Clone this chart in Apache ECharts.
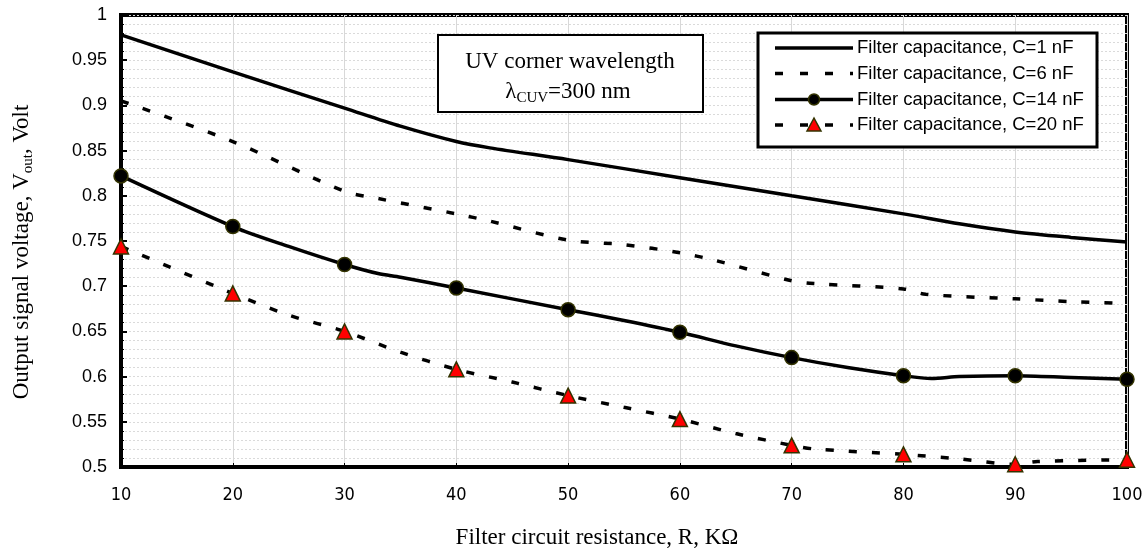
<!DOCTYPE html>
<html><head><meta charset="utf-8">
<script src="https://cdn.jsdelivr.net/npm/echarts@6/dist/echarts.min.js"></script>
<style>html,body{margin:0;padding:0;background:#fff}#c{width:1146px;height:553px}</style>
</head><body><div id="c"></div>
<script>
// Filter circuit resistance R (kOhm) and output voltage (V) per capacitance
const R1 = [10,20,30,35,40,43,50,60,70,80,85,90,95,100];
const V1 = [0.978,0.937,0.897,0.877,0.860,0.853,0.840,0.820,0.800,0.780,0.769,0.760,0.754,0.749];

const R6 = [10,20,30,33,40,43,50,55,60,63,70,72,80,82,90,95,100];
const V6 = [0.905,0.860,0.805,0.797,0.780,0.772,0.751,0.746,0.737,0.729,0.706,0.703,0.697,0.691,0.686,0.683,0.681];

const R14 = [10,20,25,30,33,35,40,50,55,60,65,70,75,80,82.5,85,90,95,100];
const V14 = [0.822,0.766,0.744,0.724,0.714,0.710,0.698,0.674,0.662,0.649,0.634,0.621,0.610,0.601,0.598,0.600,0.601,0.599,0.597];

const R20 = [10,20,25,30,35,40,45,50,55,60,65,70,72,80,85,90,92,100];
const V20 = [0.744,0.692,0.668,0.650,0.627,0.608,0.594,0.579,0.566,0.553,0.537,0.524,0.520,0.514,0.509,0.503,0.506,0.508];

const seriesNames = ['Filter capacitance, C=1 nF','Filter capacitance, C=6 nF','Filter capacitance, C=14 nF','Filter capacitance, C=20 nF'];
const xName = 'Filter circuit resistance, R, K\u03A9';
const annot1 = 'UV corner wavelength';

function pairs(xs, ys, marked){
  return xs.map((x,i)=>{
    const d = {value:[x, ys[i]]};
    if (marked && x % 10 !== 0) d.symbol = 'none';
    return d;
  });
}
const chart = echarts.init(document.getElementById('c'), null, {renderer:'canvas'});
const serif = 'Liberation Serif';
const dash = [8,15];
const OL = '#333300';

// legend drawn as graphic (box + sample lines + markers + labels)
const lgX0 = 775, lgX1 = 853, lgTx = 857, lgRows = [48, 73.5, 99.5, 125];
const legendGraphics = [
  {type:'rect',z:5,shape:{x:758,y:33,width:339,height:114},style:{fill:'#fff',stroke:'#000',lineWidth:3}}
];
const lgDash = [false, true, false, true];
lgRows.forEach((y,i)=>{
  legendGraphics.push({type:'line',z:6,shape:{x1:lgX0,y1:y,x2:lgX1,y2:y},
    style:{stroke:'#000',lineWidth:3.5,lineDash:lgDash[i]?[8,17]:null}});
  legendGraphics.push({type:'text',z:6,x:lgTx,y:y,style:{text:seriesNames[i],font:'18.5px "Liberation Sans"',fill:'#000',verticalAlign:'middle'}});
});
legendGraphics.push({type:'circle',z:7,shape:{cx:814,cy:lgRows[2],r:5.5},style:{fill:'#000',stroke:OL,lineWidth:1.5}});
legendGraphics.push({type:'polygon',z:7,shape:{points:[[814,lgRows[3]-7],[807,lgRows[3]+6],[821,lgRows[3]+6]]},style:{fill:'#ff0000',stroke:OL,lineWidth:1.5}});

chart.setOption({
  animation:false,
  backgroundColor:'#fff',
  grid:{left:121,right:19,top:15,bottom:86,show:true,borderColor:'#000',borderWidth:4,backgroundColor:'#fff'},
  xAxis:{type:'value',min:10,max:100,interval:10,
    axisLine:{lineStyle:{color:'#000',width:4}},
    axisTick:{show:true,inside:true,length:4,lineStyle:{color:'#000',width:1}},
    axisLabel:{margin:19,fontFamily:"'Liberation Sans Narrow','DejaVu Sans Condensed','Liberation Sans'",fontSize:18,color:'#000'},
    splitLine:{show:true,lineStyle:{color:'#d8d8d8',width:1}}
  },
  yAxis:{type:'value',min:0.5,max:1,interval:0.05,
    axisLine:{show:true,lineStyle:{color:'#000',width:4}},
    axisTick:{show:true,inside:true,length:6,lineStyle:{color:'#000',width:2}},
    minorTick:{show:true,splitNumber:5,length:3,lineStyle:{color:'#000',width:1}},
    axisLabel:{margin:14,fontFamily:'Liberation Sans',fontSize:18,color:'#000',
      formatter:v=>String(+v.toFixed(2))},
    splitLine:{show:true,lineStyle:{color:'#dadada',width:1,type:[2,2]}},
    minorSplitLine:{show:true,lineStyle:{color:'#dadada',width:1,type:[2,2]}}
  },
  series:[
    {name:seriesNames[0],type:'line',smooth:0.3,symbol:'none',data:pairs(R1,V1,false),
      lineStyle:{color:'#000',width:3.5},itemStyle:{color:'#000'}},
    {name:seriesNames[1],type:'line',smooth:0.3,symbol:'none',data:pairs(R6,V6,false),
      lineStyle:{color:'#000',width:3.5,type:dash},itemStyle:{color:'#000'}},
    {name:seriesNames[2],type:'line',smooth:0.3,symbol:'circle',symbolSize:14,showAllSymbol:true,clip:false,data:pairs(R14,V14,true),
      lineStyle:{color:'#000',width:3.5},itemStyle:{color:'#000',borderColor:OL,borderWidth:1.5}},
    {name:seriesNames[3],type:'line',smooth:0.3,symbol:'triangle',symbolSize:15,showAllSymbol:true,clip:false,data:pairs(R20,V20,true),
      lineStyle:{color:'#000',width:3.5,type:dash},itemStyle:{color:'#ff0000',borderColor:OL,borderWidth:1.5}}
  ],
  graphic:legendGraphics.concat([
    {type:'rect',z:5,shape:{x:438,y:35,width:265,height:77},style:{fill:'#fff',stroke:'#000',lineWidth:2}},
    {type:'text',z:6,x:570,y:62,style:{text:annot1,font:'23px "Liberation Serif"',fill:'#000',align:'center',verticalAlign:'middle'}},
    {type:'text',z:6,x:568,y:92,style:{text:'{a|\u03BB}{s|CUV}{a|=300 nm}',align:'center',verticalAlign:'middle',
      rich:{a:{fontFamily:serif,fontSize:23,lineHeight:28,verticalAlign:'middle',fill:'#000'},
            s:{fontFamily:serif,fontSize:15,lineHeight:15,verticalAlign:'bottom',fill:'#000'}}}},
    {type:'text',z:6,x:597,y:538,style:{text:xName,font:'23px "Liberation Serif"',fill:'#000',align:'center',verticalAlign:'middle'}},
    {type:'text',z:6,x:22,y:252,rotation:Math.PI/2,style:{text:'{a|Output signal voltage, V}{s|out}{a|, Volt}',align:'center',verticalAlign:'middle',
      rich:{a:{fontFamily:serif,fontSize:23,lineHeight:28,verticalAlign:'middle',fill:'#000'},
            s:{fontFamily:serif,fontSize:15,lineHeight:15,verticalAlign:'bottom',fill:'#000'}}}}
  ])
});
</script></body></html>
